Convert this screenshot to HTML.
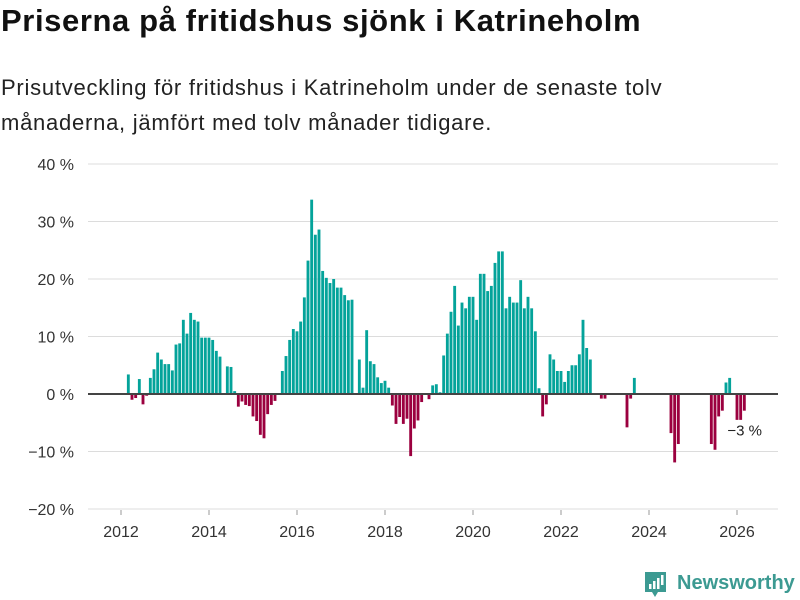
<!DOCTYPE html>
<html><head><meta charset="utf-8"><style>
body{margin:0;background:#fff;font-family:"Liberation Sans",sans-serif;}
#wrap{position:relative;width:800px;height:600px;overflow:hidden;}
h1{position:absolute;left:1px;top:3px;margin:0;font-size:31px;font-weight:bold;color:#111;letter-spacing:0.6px;}
p.sub{position:absolute;left:1px;top:70px;margin:0;font-size:22px;line-height:35px;color:#222;letter-spacing:0.75px;}
svg{position:absolute;left:0;top:0;}
</style></head><body>
<div id="wrap">
<h1>Priserna på fritidshus sjönk i Katrineholm</h1>
<p class="sub">Prisutveckling för fritidshus i Katrineholm under de senaste tolv<br>månaderna, jämfört med tolv månader tidigare.</p>
<svg id="chart" width="800" height="600"></svg>
</div>
<script>
const startYear = 2012;
const yTicks = [-20, -10, 0, 10, 20, 30, 40];
const xTickYears = [2012, 2014, 2016, 2018, 2020, 2022, 2024, 2026];
const values = [null,null,3.4,-1,-0.7,2.6,-1.8,-0.3,2.8,4.3,7.2,6.0,5.2,5.2,4.1,8.6,8.8,12.9,10.5,14.1,12.9,12.6,9.8,9.8,9.8,9.4,7.5,6.5,null,4.8,4.7,0.5,
-2.2,-1.3,-1.9,-2.1,-3.9,-4.7,-7.1,-7.7,-3.5,-1.9,-1.2,null,
4.0,6.6,9.4,11.3,10.9,12.6,16.8,23.2,33.8,27.7,28.6,21.4,20.2,19.3,20,18.5,18.5,17.2,16.3,16.4,
null,6.0,1.1,11.1,5.7,5.2,2.9,1.9,2.3,1.1,
-2,-5.2,-4,-5.2,-4.3,-10.8,-6,-4.6,-1.4,null,-0.9,1.5,1.7,0.3,
6.7,10.5,14.3,18.8,11.9,15.9,14.9,16.9,16.9,12.9,20.9,20.9,17.9,18.8,22.8,24.8,24.8,14.9,16.9,15.9,15.9,19.8,14.9,16.9,14.9,10.9,1.0,
-3.9,-1.8,
6.9,6.0,4.0,4.0,2.1,4.0,5.0,5.0,6.9,12.9,8.0,6.0,
null,null,-0.8,-0.8,null,null,null,null,null,-5.8,-0.8,2.8,
null,null,null,null,null,null,null,null,null,-6.8,-11.9,-8.7,
null,null,null,null,null,null,null,null,-8.7,-9.7,-3.9,-2.9,2.0,2.8,null,-4.5,-4.5,-2.9];
const lastLabel = "−3 %";

const NS="http://www.w3.org/2000/svg";
const svg=document.getElementById('chart');
const y0px=394, pxPerPct=5.75;
function yScale(v){return y0px - v*pxPerPct;}
const x0=121, pxPerYear=44;
function xScale(monthIdx){return x0 + monthIdx*pxPerYear/12;}
function mk(tag,attrs){const e=document.createElementNS(NS,tag);for(const k in attrs)e.setAttribute(k,attrs[k]);svg.appendChild(e);return e;}

yTicks.forEach(t=>{
  const g=mk('line',{x1:88,x2:778,y1:yScale(t),y2:yScale(t),stroke:'#dcdcdc','stroke-width':1});
  
  
  const tx=mk('text',{x:74,y:yScale(t)+6,'text-anchor':'end','font-size':16,fill:'#333','font-family':'Liberation Sans, sans-serif'});
  tx.textContent=(t<0?'−'+Math.abs(t):t)+' %';
  
  
});
xTickYears.forEach(yr=>{
  const x=xScale((yr-startYear)*12);
  const l=mk('line',{x1:x,x2:x,y1:510,y2:515,stroke:'#999'});
  
  
  const tx=mk('text',{x:x,y:537,'text-anchor':'middle','font-size':16,fill:'#333','font-family':'Liberation Sans, sans-serif'});
  tx.textContent=yr;
  
  
});
const bw=44/12-0.8;
let lastIdx=-1;
values.forEach((v,i)=>{
  if(v===null)return;
  lastIdx=i;
  const x=xScale(i)-bw/2;
  const top=Math.min(yScale(v),y0px), h=Math.abs(yScale(v)-y0px);
  const r=mk('rect',{x:x,y:top,width:bw,height:Math.max(h,0.5),fill:v>=0?'#04a39a':'#9b003f'});
  
  
});
const zl=mk('line',{x1:88,x2:778,y1:y0px,y2:y0px,stroke:'#444','stroke-width':2});


const lab=mk('text',{x:xScale(lastIdx)-17,y:yScale(values[lastIdx])+25,'font-size':15,fill:'#222','font-family':'Liberation Sans, sans-serif'});
lab.textContent=lastLabel;



// logo
const lg=document.createElementNS(NS,'g');


svg.appendChild(lg);
lg.innerHTML='<path d="M645 572 h21 v20 h-8 l-3 5 l-3 -5 h-7 z" fill="#3c9a92"/><rect x="649" y="584" width="2.5" height="5" fill="#fff"/><rect x="653" y="581" width="2.5" height="8" fill="#fff"/><rect x="657" y="578" width="2.5" height="11" fill="#fff"/><rect x="661" y="575" width="2.5" height="10" fill="#fff"/><text x="677" y="589" font-size="20" font-weight="bold" fill="#3c9a92" font-family="Liberation Sans, sans-serif">Newsworthy</text>';
</script>
</body></html>
